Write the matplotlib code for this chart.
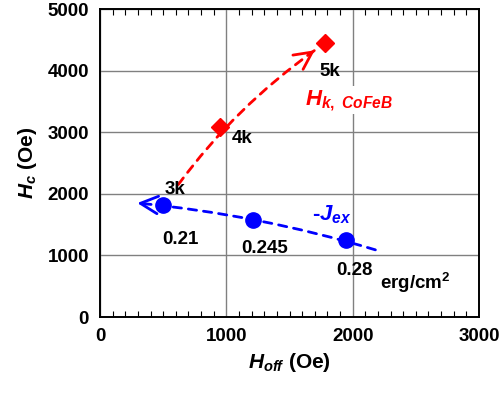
import numpy as np
import matplotlib
matplotlib.use("Agg")
import matplotlib.pyplot as plt

plt.rcParams['font.family'] = ['Liberation Sans', 'DejaVu Sans']
plt.rcParams['font.weight'] = 'bold'
plt.rcParams['mathtext.fontset'] = 'custom'
plt.rcParams['mathtext.it'] = 'Liberation Sans:italic:bold'
plt.rcParams['mathtext.rm'] = 'Liberation Sans:bold'
plt.rcParams['mathtext.bf'] = 'Liberation Sans:bold'

# Hk,CoFeB series (red diamonds)
hoff_hk = [950, 1780]
hc_hk = [3090, 4450]
hk_labels = ["3k", "4k", "5k"]
hk_label_x = [515, 1045, 1740]
hk_label_y = [2070, 2900, 3980]
hk_trend = [(620, 2150), (1700, 4330)]

# -Jex series (blue circles)
hoff_jex = [500, 1210, 1950]
hc_jex = [1820, 1580, 1250]
jex_labels = ["0.21", "0.245", "0.28"]
jex_label_x = [635, 1300, 1870]
jex_label_y = [1250, 1110, 760]
jex_trend = [(2180, 1090), (295, 1850)]

fig = plt.figure(figsize=(5, 4), dpi=100)
ax = fig.add_axes([0.2, 0.2075, 0.758, 0.77])
ax.set_xlim(0, 3000)
ax.set_ylim(0, 5000)
ax.set_xticks([0, 1000, 2000, 3000])
ax.set_yticks([0, 1000, 2000, 3000, 4000, 5000])
ax.set_xticks(np.arange(0, 3001, 100), minor=True)
ax.grid(True, color='#808080', lw=1)
ax.set_axisbelow(True)
ax.tick_params(axis='x', which='both', direction='in', top=True, bottom=True, pad=8, labelsize=13.5)
ax.tick_params(axis='x', which='major', length=0)
ax.tick_params(axis='x', which='minor', length=4, width=0.8)
ax.tick_params(axis='y', which='both', direction='in', left=False, right=False, pad=8, labelsize=13.5)
for s in ax.spines.values():
    s.set_linewidth(1.4)
for lab in ax.get_xticklabels() + ax.get_yticklabels():
    lab.set_fontweight('bold')

ax.set_xlabel(r'$H_{off}$ (Oe)', fontsize=15, fontweight='bold', labelpad=4)
ax.set_ylabel(r'$H_c$ (Oe)', fontsize=15, fontweight='bold', labelpad=6)


def trend_arrow(p0, p1, rad, color):
    # dashed curved shaft, solid open head
    ax.annotate('', xy=p1, xytext=p0,
                arrowprops=dict(arrowstyle='-', color=color, lw=2, linestyle=(0, (3, 2.5)),
                                connectionstyle=f'arc3,rad={rad}', shrinkA=0, shrinkB=0))
    d0 = ax.transData.transform(p0)
    d1 = ax.transData.transform(p1)
    dx, dy = d1 - d0
    ctrl = (d0 + d1) / 2 + rad * np.array([dy, -dx])
    tang = d1 - ctrl
    tang = tang / np.hypot(*tang)
    back = ax.transData.inverted().transform(d1 - tang * 6)
    ax.annotate('', xy=p1, xytext=back,
                arrowprops=dict(arrowstyle='->,head_length=0.9,head_width=0.45', color=color, lw=2,
                                shrinkA=0, shrinkB=0, mutation_scale=14))


trend_arrow(hk_trend[0], hk_trend[1], -0.08, 'red')
trend_arrow(jex_trend[0], jex_trend[1], 0.05, 'blue')

ax.plot(hoff_hk, hc_hk, 'D', color='red', ms=9, zorder=5)
ax.plot(hoff_jex, hc_jex, 'o', color='blue', ms=11, zorder=5)

for t, x, y in zip(hk_labels, hk_label_x, hk_label_y):
    ax.text(x, y, t, fontsize=13.5, fontweight='bold', va='center', ha='left')
for t, x, y in zip(jex_labels, jex_label_x, jex_label_y):
    ax.text(x, y, t, fontsize=13.5, fontweight='bold', va='center',
            ha='left' if t == "0.28" else 'center')
ax.text(2215, 560, 'erg/cm$^2$', fontsize=13.5, fontweight='bold', va='center', ha='left')

ax.text(1620, 3520, r'$H_{k,\ CoFeB}$', color='red', fontsize=16, va='center', ha='left',
        bbox=dict(facecolor='white', edgecolor='none', pad=1))
ax.text(1680, 1660, r'-$J_{ex}$', color='blue', fontsize=16, va='center', ha='left')

fig.savefig('out.png', dpi=100)
